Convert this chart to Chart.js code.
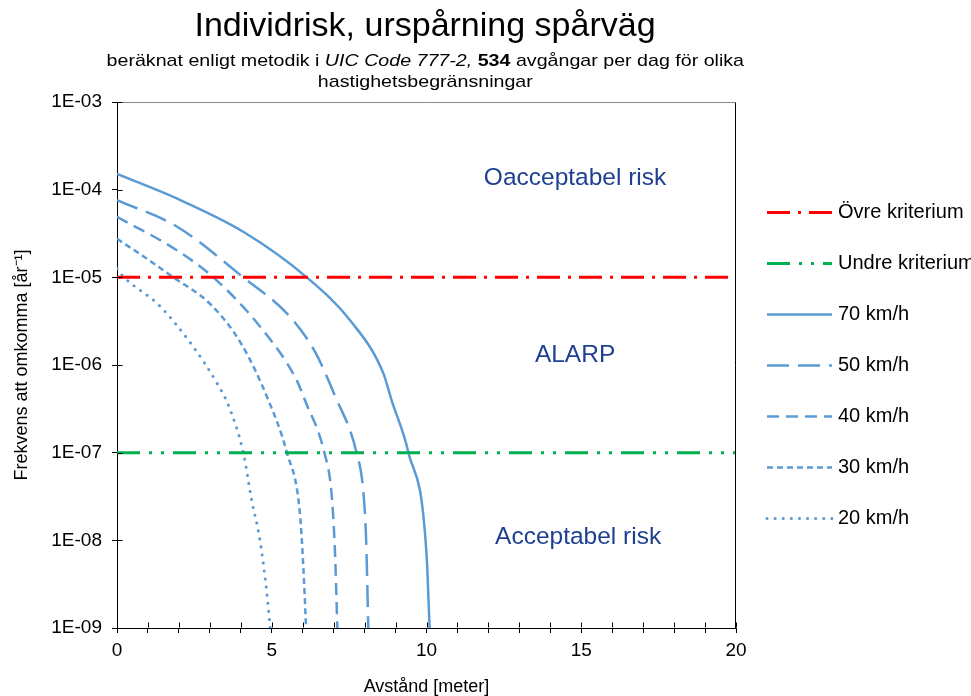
<!DOCTYPE html>
<html>
<head>
<meta charset="utf-8">
<script src="https://cdn.jsdelivr.net/npm/chart.js@4.4.1/dist/chart.umd.min.js"></script>
<style>
  html, body { margin: 0; padding: 0; background: #fff; }
  #wrap { position: relative; width: 971px; height: 696px; background: #fff; overflow: hidden; }
  #c { position: absolute; left: 0; top: 0; }
  .t { position: absolute; left: 0; width: 850px; text-align: center; color: #000;
       font-family: "Liberation Sans", Arial, sans-serif; white-space: nowrap; }
  #title { top: 7px; font-size: 34px; line-height: 34px; }
  #sub { top: 50px; font-size: 17px; line-height: 21px; transform: scaleX(1.155); transform-origin: 423px 0; }
</style>
</head>
<body>
<div id="wrap">
  <canvas id="c" width="971" height="696"></canvas>
  <div class="t" id="title">Individrisk, urspårning spårväg</div>
  <div class="t" id="sub">beräknat enligt metodik i <i>UIC Code 777-2,</i> <b>534</b> avgångar per dag för olika<br>hastighetsbegränsningar</div>
</div>
<script>
// ---------- data ----------
const seriesNames = ['Övre kriterium', 'Undre kriterium', '70 km/h', '50 km/h', '40 km/h', '30 km/h', '20 km/h'];

const distCriteria = [0, 20];
const upperCriterion = [1e-5, 1e-5];
const lowerCriterion = [1e-7, 1e-7];

const dist70 = [0, 1.93, 4.08, 6.13, 7.53, 8.6, 8.87, 9.41, 10.0, 10.1];
const risk70 = [1.51e-4, 7.94e-5, 3.31e-5, 1.0e-5, 3.24e-6, 8.13e-7, 3.98e-7, 1.02e-7, 7.08e-9, 1e-9];

const dist50 = [0, 1.93, 4.08, 5.59, 6.4, 7.04, 7.74, 7.96, 8.05, 8.12];
const risk50 = [7.59e-5, 3.80e-5, 1.0e-5, 3.55e-6, 1.41e-6, 4.47e-7, 1.0e-7, 3.55e-8, 1.0e-8, 1e-9];

const dist40 = [0, 1.93, 3.11, 4.62, 5.8, 6.07, 6.7, 6.93, 7.04, 7.12];
const risk40 = [4.90e-5, 2.04e-5, 1.0e-5, 2.75e-6, 6.76e-7, 3.98e-7, 1.0e-7, 3.47e-8, 7.76e-9, 1e-9];

const dist30 = [0, 0.85, 1.82, 3.0, 4.0, 4.89, 5.49, 5.91, 6.02, 6.11];
const risk30 = [2.75e-5, 1.74e-5, 1.0e-5, 5.01e-6, 1.78e-6, 3.98e-7, 1.0e-7, 2.04e-8, 5.01e-9, 1e-9];

const dist20 = [0, 0.15, 1.39, 2.46, 3.25, 3.6, 4.08, 4.35, 4.62, 4.84, 4.95];
const risk20 = [1.26e-5, 1.07e-5, 4.68e-6, 1.62e-6, 6.03e-7, 3.47e-7, 1.0e-7, 2.88e-8, 1.0e-8, 2.51e-9, 1e-9];

const yTickExponents = [-9, -8, -7, -6, -5, -4, -3];
const xTickLabels = [0, 5, 10, 15, 20];

const zoneLabels = ['Oacceptabel risk', 'ALARP', 'Acceptabel risk'];
const zoneDist = [14.8, 14.8, 14.9];
const zoneRisk = [1.36e-4, 1.30e-6, 1.09e-8];

// ---------- helpers ----------
const pts = (xs, ys) => xs.map((v, i) => ({x: v, y: ys[i]}));
const FONT = '"Liberation Sans", Arial, sans-serif';
const BLUE = '#5B9BD5';

function lineDs(label, xs, ys, color, width, dash, cap) {
  return {
    label, data: pts(xs, ys),
    borderColor: color, backgroundColor: 'rgba(0,0,0,0)',
    borderWidth: width, borderDash: dash, borderCapStyle: cap || 'butt',
    pointRadius: 0, pointHoverRadius: 0, fill: false,
    cubicInterpolationMode: 'monotone', tension: 0
  };
}

const datasets = [
  lineDs(seriesNames[0], distCriteria, upperCriterion, '#FF0000', 3, [23, 8, 3, 8]),
  lineDs(seriesNames[1], distCriteria, lowerCriterion, '#00B050', 3, [23, 9, 3, 9, 3, 9]),
  lineDs(seriesNames[2], dist70, risk70, BLUE, 2.5, []),
  lineDs(seriesNames[3], dist50, risk50, BLUE, 2.5, [22, 9]),
  lineDs(seriesNames[4], dist40, risk40, BLUE, 2.5, [12, 7]),
  lineDs(seriesNames[5], dist30, risk30, BLUE, 2.5, [6, 4]),
  lineDs(seriesNames[6], dist20, risk20, BLUE, 3, [0.1, 8], 'round')
];

// ---------- plugins ----------
const LEGEND_W = 235;
const SAMPLE_W = 65;
const legendWidthPlugin = {
  id: 'legendWidth',
  beforeLayout(chart) {
    const lg = chart.legend;
    if (lg && !lg._fixedW) {
      const orig = lg.fit.bind(lg);
      lg.fit = function () { orig(); this.width = LEGEND_W; };
      lg._fixedW = true;
    }
  }
};

const framePlugin = {
  id: 'excelFrame',
  afterDatasetsDraw(chart) {
    const {ctx, chartArea: a, scales: {x, y}} = chart;
    ctx.save();
    ctx.lineWidth = 1;
    const L = Math.round(a.left) + 0.5, R = Math.round(a.right) - 0.5;
    const T = Math.round(a.top) + 0.5, B = Math.round(a.bottom) - 0.5;
    ctx.strokeStyle = '#8a8a8a';
    ctx.beginPath(); ctx.moveTo(L, T); ctx.lineTo(R, T); ctx.stroke();
    ctx.strokeStyle = '#000';
    ctx.beginPath(); ctx.moveTo(R, T); ctx.lineTo(R, B + 0.5); ctx.stroke();
    ctx.beginPath();
    x.ticks.forEach(t => {
      const px = Math.round(x.getPixelForValue(t.value)) + 0.5;
      ctx.moveTo(px, B); ctx.lineTo(px, B - 5);
    });
    y.ticks.forEach(t => {
      const py = Math.round(y.getPixelForValue(t.value)) + 0.5;
      ctx.moveTo(L, py); ctx.lineTo(L + 5, py);
    });
    ctx.stroke();
    ctx.fillStyle = '#1F4091';
    ctx.font = '24.5px ' + FONT;
    ctx.textAlign = 'center';
    ctx.textBaseline = 'middle';
    zoneLabels.forEach((s, i) => {
      ctx.fillText(s, x.getPixelForValue(zoneDist[i]), y.getPixelForValue(zoneRisk[i]));
    });
    ctx.restore();
  },
  afterDraw(chart) {
    const lg = chart.legend;
    if (!lg || !lg.legendHitBoxes) return;
    const ctx = chart.ctx;
    ctx.save();
    lg.legendHitBoxes.forEach((hb, i) => {
      const ds = chart.data.datasets[i];
      const yy = Math.round(hb.top + hb.height / 2) + 0.5;
      ctx.strokeStyle = ds.borderColor;
      ctx.lineWidth = ds.borderWidth;
      ctx.lineCap = ds.borderCapStyle;
      ctx.setLineDash(ds.borderDash || []);
      ctx.beginPath();
      ctx.moveTo(hb.left, yy);
      ctx.lineTo(hb.left + SAMPLE_W, yy);
      ctx.stroke();
    });
    ctx.restore();
  }
};

Chart.defaults.font.family = FONT;
Chart.defaults.color = '#000';

new Chart(document.getElementById('c'), {
  type: 'line',
  data: { datasets },
  plugins: [legendWidthPlugin, framePlugin],
  options: {
    responsive: false,
    animation: false,
    devicePixelRatio: 1,
    layout: { padding: { top: 102, left: 0, right: 0, bottom: 0 } },
    plugins: {
      title: { display: false },
      tooltip: { enabled: false },
      legend: {
        display: true,
        position: 'right',
        align: 'center',
        fullSize: false,
        labels: {
          usePointStyle: true,
          pointStyle: 'line',
          pointStyleWidth: 61,
          boxHeight: 20,
          padding: 31,
          color: '#000',
          font: { size: 20, family: FONT },
          generateLabels(chart) {
            const items = Chart.defaults.plugins.legend.labels.generateLabels(chart);
            items.forEach(it => { it.lineWidth = 0; it.strokeStyle = 'rgba(0,0,0,0)'; it.fillStyle = 'rgba(0,0,0,0)'; });
            return items;
          }
        }
      }
    },
    scales: {
      x: {
        type: 'linear',
        min: 0, max: 20,
        afterFit(s) { s.height = 68; },
        border: { display: true, color: '#000', width: 1 },
        grid: { drawOnChartArea: false, drawTicks: true, tickLength: 5, color: '#000' },
        ticks: {
          stepSize: 1, autoSkip: false, maxRotation: 0, padding: 6,
          color: '#000', font: { size: 19, family: FONT },
          callback: v => xTickLabels.includes(v) ? String(v) : ''
        },
        title: { display: true, text: 'Avstånd [meter]', color: '#000',
                 font: { size: 18, family: FONT }, padding: { top: 0, bottom: -2 } }
      },
      y: {
        type: 'logarithmic',
        min: 1e-9, max: 1e-3,
        afterFit(s) { s.width = 117; },
        afterBuildTicks(s) { s.ticks = yTickExponents.map(e => ({ value: Math.pow(10, e) })); },
        border: { display: true, color: '#000', width: 1 },
        grid: { drawOnChartArea: false, drawTicks: true, tickLength: 5, color: '#000' },
        ticks: {
          autoSkip: false, padding: 10, color: '#000', font: { size: 19, family: FONT },
          callback: v => {
            const e = Math.round(Math.log10(v));
            return '1E' + (e < 0 ? '-' : '+') + String(Math.abs(e)).padStart(2, '0');
          }
        },
        title: { display: true, text: 'Frekvens att omkomma [år⁻¹]', color: '#000',
                 font: { size: 18, family: FONT }, padding: { top: 11, bottom: 0 } }
      }
    }
  }
});
</script>
</body>
</html>
